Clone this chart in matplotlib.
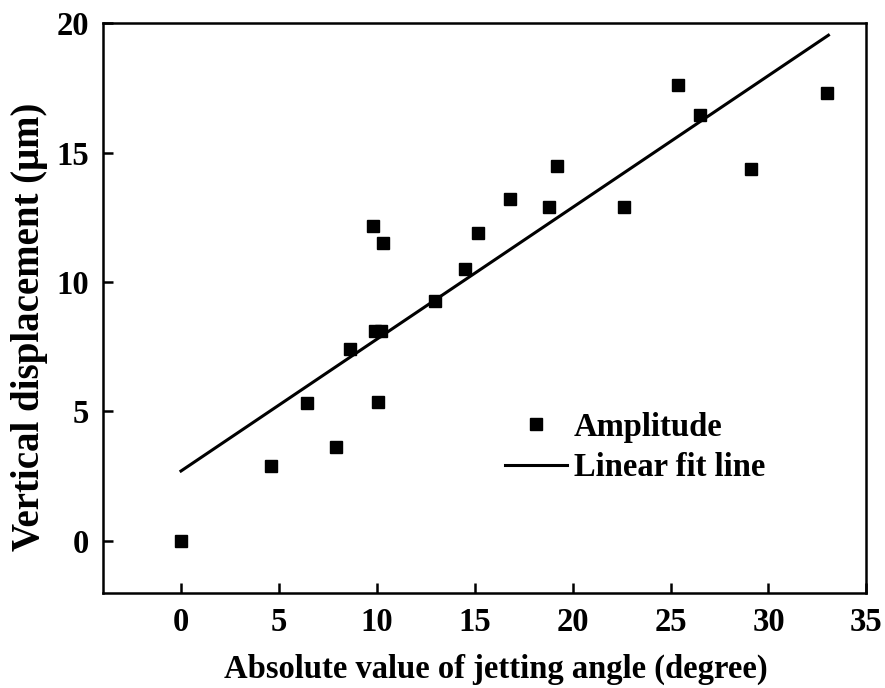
import matplotlib
matplotlib.use("Agg")
import matplotlib.pyplot as plt

angle = [0.0, 4.6, 6.43, 7.9, 8.62, 9.8, 9.9, 10.2, 10.05, 10.3, 12.96, 14.5, 15.15,
         16.8, 18.8, 19.2, 22.6, 25.36, 26.5, 29.1, 33.0]
displacement = [0.0, 2.9, 5.34, 3.64, 7.43, 12.15, 8.1, 8.1, 5.38, 11.49, 9.25, 10.52, 11.88,
                13.2, 12.9, 14.47, 12.9, 17.6, 16.44, 14.35, 17.3]
fit_x = [0.0, 33.06]
fit_y = [2.7, 19.53]

plt.rcParams['font.family'] = ['Liberation Serif', 'DejaVu Serif']
plt.rcParams['font.weight'] = 'bold'

fig = plt.figure(figsize=(8.85, 6.88), dpi=100)
ax = fig.add_axes([0.116, 0.1385, 0.863, 0.828])

ax.plot(angle, displacement, 's', color='black', markersize=9, label='Amplitude', zorder=3)
ax.plot(fit_x, fit_y, '-', color='black', linewidth=2.2, label='Linear fit line')

ax.set_xlim(-4, 35)
ax.set_ylim(-2, 20)
ax.set_xticks([0, 5, 10, 15, 20, 25, 30, 35])
ax.set_yticks([0, 5, 10, 15, 20])
for s in ax.spines.values():
    s.set_linewidth(1.8)
ax.tick_params(direction='in', length=7, width=1.8, labelsize=23.5, pad=10,
               top=False, right=False)
for lbl in ax.get_xticklabels() + ax.get_yticklabels():
    lbl.set_fontweight('bold')

ax.set_xlabel('Absolute value of jetting angle (degree)', fontsize=23.5, fontweight='bold')
ax.set_ylabel('Vertical displacement (\u03bcm)', fontsize=28, fontweight='bold')
ax.xaxis.set_label_coords(0.515, -0.108)
ax.yaxis.set_label_coords(-0.072, 0.466)

leg = ax.legend(loc='upper left', bbox_to_anchor=(0.527, 0.318), frameon=False,
                prop={'size': 23.5, 'weight': 'bold'}, handlelength=1.9,
                handletextpad=0.2, labelspacing=0.3, borderaxespad=0, borderpad=0)

fig.savefig('out.png', dpi=100)
